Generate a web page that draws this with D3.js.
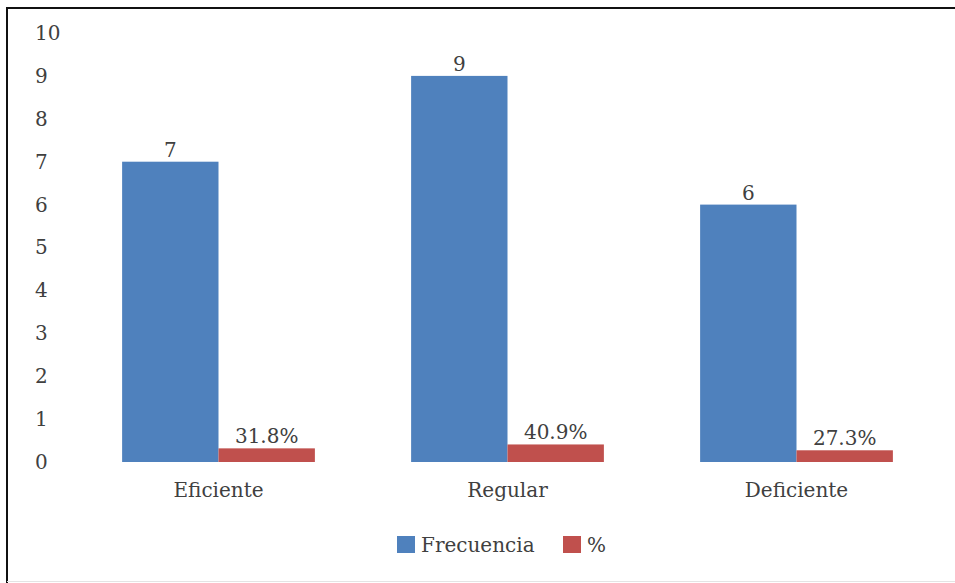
<!DOCTYPE html>
<html>
<head>
<meta charset="utf-8">
<script src="https://cdn.jsdelivr.net/npm/d3@7"></script>
<style>
  html, body { margin: 0; padding: 0; background: #fff; }
  svg text { font-family: "DejaVu Serif", serif; fill: #404040; }
</style>
</head>
<body>
<svg id="chart" width="955" height="583"></svg>
<script>
// Chart data
const categories = ["Eficiente", "Regular", "Deficiente"];
const frecuencia = [7, 9, 6];
const porcentaje = [0.318, 0.409, 0.273];
const porcentajeLabels = ["31.8%", "40.9%", "27.3%"];
const seriesNames = ["Frecuencia", "%"];
const seriesColors = ["#4f81bd", "#c0504d"];
const yTicks = [0, 1, 2, 3, 4, 5, 6, 7, 8, 9, 10];

const FONT_SIZE = "20px";
const svg = d3.select("#chart");

// Outer frame: top and left edges dark, bottom faint
svg.append("line").attr("x1", 6).attr("x2", 955).attr("y1", 8).attr("y2", 8)
  .attr("stroke", "#111").attr("stroke-width", 2);
svg.append("line").attr("x1", 7).attr("x2", 7).attr("y1", 7).attr("y2", 583)
  .attr("stroke", "#111").attr("stroke-width", 2);
svg.append("line").attr("x1", 7).attr("x2", 955).attr("y1", 581.5).attr("y2", 581.5)
  .attr("stroke", "#e4e4e4").attr("stroke-width", 1);

const plot = { left: 74, right: 941, top: 33, bottom: 462 };

const x0 = d3.scaleBand().domain(categories).range([plot.left, plot.right]).paddingInner(0.333).paddingOuter(0.1665);
const x1 = d3.scaleBand().domain(seriesNames).range([0, x0.bandwidth()]);
const y = d3.scaleLinear().domain([0, 10]).range([plot.bottom, plot.top]);

// Y axis tick labels (no line, no ticks)
const yAxis = d3.axisLeft(y).tickValues(yTicks).tickSize(0).tickPadding(0);
const yg = svg.append("g").attr("transform", `translate(35,0)`).call(yAxis);
yg.select(".domain").remove();
yg.selectAll("text").attr("text-anchor", "start").attr("x", 0)
  .style("font-size", FONT_SIZE).style("font-family", "DejaVu Serif").attr("fill", "#404040");

// X axis category labels
const xAxis = d3.axisBottom(x0).tickSize(0).tickPadding(21);
const xg = svg.append("g").attr("transform", `translate(0,${plot.bottom})`).call(xAxis);
xg.select(".domain").remove();
xg.selectAll("text").style("font-size", FONT_SIZE).style("font-family", "DejaVu Serif").attr("fill", "#404040");

const rows = categories.map((c, i) => ({ cat: c, vals: [frecuencia[i], porcentaje[i]], labels: [String(frecuencia[i]), porcentajeLabels[i]] }));

const groups = svg.append("g").selectAll("g").data(rows).join("g")
  .attr("transform", d => `translate(${x0(d.cat)},0)`);

groups.selectAll("rect").data(d => d.vals.map((v, j) => ({ v, j }))).join("rect")
  .attr("x", d => x1(seriesNames[d.j]))
  .attr("width", x1.bandwidth())
  .attr("y", d => y(d.v))
  .attr("height", d => y(0) - y(d.v))
  .attr("fill", d => seriesColors[d.j]);

groups.selectAll("text.lbl").data(d => d.vals.map((v, j) => ({ v, j, t: d.labels[j] }))).join("text")
  .attr("class", "lbl")
  .attr("x", d => x1(seriesNames[d.j]) + x1.bandwidth() / 2)
  .attr("y", d => y(d.v) - 5)
  .attr("text-anchor", "middle")
  .style("font-size", FONT_SIZE)
  .text(d => d.t);

// Legend
const legend = svg.append("g");
const legendItems = [
  { name: seriesNames[0], color: seriesColors[0], x: 397 },
  { name: seriesNames[1], color: seriesColors[1], x: 563 }
];
legendItems.forEach(it => {
  legend.append("rect").attr("x", it.x).attr("y", 536).attr("width", 18).attr("height", 17).attr("fill", it.color);
  legend.append("text").attr("x", it.x + 24).attr("y", 552).style("font-size", FONT_SIZE).text(it.name);
});
</script>
</body>
</html>
